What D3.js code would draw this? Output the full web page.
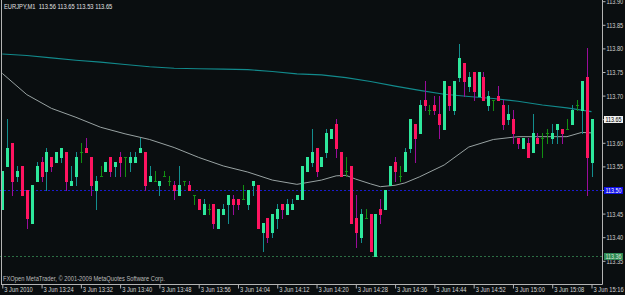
<!DOCTYPE html>
<html><head><meta charset="utf-8">
<script src="https://cdn.jsdelivr.net/npm/d3@7"></script>
<style>
html,body{margin:0;padding:0;background:#0a0e10;overflow:hidden;}
svg{display:block;}
</style></head><body>
<svg id="c" width="625" height="295"></svg>
<script>
// ---------- DATA ----------
const symbol = "EURJPY";
const period = "M1";
const opens  = [113.46,113.55,113.60,113.53,113.55,113.50,113.43,113.52,113.56,113.54,113.57,113.56,113.57,113.58,113.51,113.53,113.58,113.59,113.57,113.50,
                113.53,113.54,113.57,113.55,113.57,113.57,113.56,113.56,113.58,113.58,113.52,113.52,113.51,113.53,113.52,113.51,113.49,113.52,113.51,113.49,
                113.48,113.45,113.46,113.47,113.42,113.45,113.47,113.48,113.48,113.48,113.47,113.51,113.51,113.41,113.44,113.41,113.44,113.47,113.45,113.46,
                113.48,113.48,113.54,113.56,113.59,113.55,113.58,113.61,113.64,113.58,113.54,113.55,113.44,113.40,113.44,113.45,113.36,113.46,113.46,113.51,
                113.56,113.53,113.54,113.59,113.64,113.62,113.69,113.67,113.68,113.66,113.63,113.72,113.67,113.74,113.77,113.72,113.75,113.70,113.74,113.68,
                113.69,113.70,113.68,113.65,113.65,113.61,113.59,113.60,113.58,113.61,113.61,113.62,113.61,113.63,113.63,113.63,113.64,113.68,113.67,113.74,
                113.56];
const highs  = [113.54,113.65,113.60,113.55,113.55,113.50,113.51,113.56,113.57,113.59,113.57,113.58,113.59,113.58,113.55,113.58,113.60,113.61,113.57,113.53,
                113.55,113.56,113.57,113.56,113.58,113.57,113.58,113.58,113.61,113.58,113.55,113.54,113.52,113.54,113.53,113.52,113.55,113.52,113.52,113.49,
                113.48,113.48,113.47,113.47,113.46,113.47,113.49,113.49,113.48,113.51,113.50,113.52,113.51,113.43,113.44,113.45,113.47,113.47,113.48,113.48,
                113.49,113.55,113.57,113.63,113.59,113.57,113.63,113.63,113.65,113.58,113.57,113.55,113.49,113.46,113.46,113.45,113.45,113.48,113.50,113.55,
                113.57,113.55,113.59,113.65,113.64,113.69,113.73,113.68,113.70,113.70,113.73,113.72,113.73,113.81,113.77,113.75,113.75,113.75,113.75,113.71,
                113.69,113.72,113.69,113.68,113.67,113.61,113.61,113.61,113.66,113.62,113.62,113.63,113.64,113.64,113.63,113.65,113.68,113.69,113.73,113.80,
                113.65];
const lows   = [113.46,113.55,113.49,113.52,113.49,113.42,113.43,113.52,113.52,113.50,113.54,113.56,113.56,113.50,113.51,113.51,113.56,113.58,113.49,113.46,
                113.53,113.54,113.53,113.53,113.53,113.53,113.54,113.56,113.58,113.50,113.52,113.52,113.49,113.53,113.51,113.48,113.49,113.51,113.50,113.47,
                113.46,113.45,113.45,113.42,113.42,113.45,113.43,113.45,113.46,113.48,113.46,113.49,113.42,113.37,113.39,113.40,113.42,113.44,113.45,113.46,
                113.48,113.48,113.54,113.55,113.53,113.55,113.57,113.61,113.57,113.53,113.53,113.43,113.38,113.39,113.44,113.37,113.36,113.43,113.46,113.51,
                113.52,113.52,113.54,113.58,113.56,113.62,113.67,113.66,113.66,113.61,113.63,113.67,113.66,113.73,113.70,113.71,113.69,113.70,113.69,113.67,
                113.67,113.69,113.63,113.64,113.60,113.59,113.59,113.57,113.58,113.60,113.57,113.60,113.60,113.60,113.60,113.63,113.64,113.67,113.62,113.49,
                113.53];
const closes = [113.54,113.59,113.52,113.54,113.49,113.44,113.51,113.55,113.53,113.58,113.55,113.58,113.59,113.52,113.52,113.57,113.58,113.58,113.51,113.52,
                113.53,113.56,113.54,113.56,113.56,113.57,113.57,113.57,113.59,113.51,113.53,113.52,113.52,113.53,113.52,113.50,113.51,113.52,113.50,113.49,
                113.46,113.47,113.46,113.43,113.46,113.46,113.49,113.47,113.47,113.48,113.50,113.52,113.42,113.43,113.40,113.45,113.46,113.46,113.47,113.47,
                113.49,113.55,113.57,113.58,113.54,113.57,113.62,113.63,113.59,113.53,113.54,113.43,113.41,113.45,113.44,113.37,113.45,113.45,113.50,113.55,
                113.54,113.53,113.58,113.65,113.61,113.68,113.68,113.67,113.67,113.64,113.73,113.68,113.73,113.78,113.73,113.74,113.71,113.75,113.69,113.70,
                113.69,113.69,113.64,113.66,113.62,113.60,113.61,113.57,113.62,113.60,113.61,113.62,113.62,113.64,113.62,113.63,113.67,113.68,113.73,113.57,
                113.65];
// slow moving average (teal), sampled at bar indices
const maSlowIdx = [0,5,10,15,20,25,30,35,40,45,50,55,60,65,70,75,80,85,90,95,100,105,110,115,120];
const maSlow    = [113.788,113.785,113.780,113.775,113.771,113.766,113.761,113.758,113.757,113.756,113.755,113.751,113.746,113.744,113.738,113.730,113.720,113.711,113.703,113.698,113.694,113.688,113.680,113.674,113.666];
// fast moving average (grey)
const maFastIdx = [0,5,10,15,20,25,30,35,40,45,50,55,60,65,68,70,72,75,77,80,82,85,90,95,100,105,110,115,118,120];
const maFast    = [113.747,113.702,113.673,113.654,113.633,113.619,113.607,113.590,113.569,113.551,113.538,113.521,113.512,113.521,113.530,113.531,113.523,113.513,113.507,113.510,113.515,113.528,113.553,113.591,113.607,113.613,113.613,113.613,113.622,113.621];
// horizontal levels
const levelBlue  = 113.50;
const levelGreen = 113.36;
// axes
const priceTicks = [113.90,113.85,113.80,113.75,113.70,113.65,113.60,113.55,113.50,113.45,113.40,113.35];
const timeIdx    = [0,8,16,24,32,40,48,56,64,72,80,88,96,104,112,120];
const timeLabels = ["3 Jun 2010","3 Jun 13:24","3 Jun 13:32","3 Jun 13:40","3 Jun 13:48","3 Jun 13:56","3 Jun 14:04","3 Jun 14:12",
                    "3 Jun 14:20","3 Jun 14:28","3 Jun 14:36","3 Jun 14:44","3 Jun 14:52","3 Jun 15:00","3 Jun 15:08","3 Jun 15:16"];
const copyright = "FXOpen MetaTrader, \u00A9 2001-2009 MetaQuotes Software Corp.";

// ---------- CHART ----------
const W = 625, H = 295, plotR = 602, plotB = 284;
const FONT = "'Liberation Sans', Arial, sans-serif";
const svg = d3.select("#c");
svg.append("rect").attr("width", W).attr("height", H).attr("fill", "#0a0e10");

const x = d3.scaleLinear().domain([0, 120]).range([2.3, 591.5]);
const y = d3.scaleLinear().domain([113.50, 113.90]).range([190, 1.2]);
const f2 = d3.format(".2f");

// horizontally condense text around its own x anchor (narrow screen-font look)
function condense(sel, f) {
  sel.each(function () {
    const x0 = +(this.getAttribute("x") || 0);
    d3.select(this).attr("transform", `translate(${x0 * (1 - f)},0) scale(${f},1)`);
  });
}

svg.append("defs").append("clipPath").attr("id", "plot")
  .append("rect").attr("x", 0).attr("y", 0).attr("width", plotR).attr("height", plotB);
const plot = svg.append("g").attr("clip-path", "url(#plot)");

// moving averages
const line = d3.line().x(d => x(d[0])).y(d => y(d[1]));
plot.append("path").datum(maSlowIdx.map((d, i) => [d, maSlow[i]]))
  .attr("d", line).attr("fill", "none").attr("stroke", "#128a8c").attr("stroke-width", 1.1);
plot.append("path").datum(maFastIdx.map((d, i) => [d, maFast[i]]))
  .attr("d", line).attr("fill", "none").attr("stroke", "#98a2a2").attr("stroke-width", 1);

// horizontal levels
plot.append("line").attr("x1", 0).attr("x2", plotR)
  .attr("y1", Math.round(y(levelBlue)) + 0.5).attr("y2", Math.round(y(levelBlue)) + 0.5)
  .attr("stroke", "#1a1ad0").attr("stroke-dasharray", "2,2");
plot.append("line").attr("x1", 0).attr("x2", plotR)
  .attr("y1", Math.round(y(levelGreen)) + 0.5).attr("y2", Math.round(y(levelGreen)) + 0.5)
  .attr("stroke", "#2c6e44").attr("stroke-dasharray", "2,2");

// candles
const bars = d3.range(opens.length).map(i => ({ i, o: opens[i], h: highs[i], l: lows[i], c: closes[i] }));
const g = plot.selectAll("g.bar").data(bars).join("g").attr("class", "bar");
const kind = d => d.c > d.o ? "bull" : (d.c < d.o ? "bear" : "doji");
const wickCol = { bull: "#138e8e", bear: "#9a0c9a", doji: "#129012" };
const bodyCol = { bull: "#2ee89c", bear: "#ff1460", doji: "#129012" };
g.append("rect")
  .attr("x", d => Math.round(x(d.i)))
  .attr("y", d => Math.round(y(d.h)))
  .attr("width", 1)
  .attr("height", d => Math.round(y(d.l)) - Math.round(y(d.h)) + 1)
  .attr("fill", d => wickCol[kind(d)]);
g.append("rect")
  .attr("x", d => Math.round(x(d.i)) - 1)
  .attr("y", d => Math.round(y(Math.max(d.o, d.c))))
  .attr("width", 3)
  .attr("height", d => Math.max(1, Math.round(y(Math.min(d.o, d.c))) - Math.round(y(Math.max(d.o, d.c))) + 1))
  .attr("fill", d => bodyCol[kind(d)]);

// frame
const frame = svg.append("g").attr("stroke", "#b4b4b4").attr("stroke-width", 1);
frame.append("line").attr("x1", 1.5).attr("x2", 1.5).attr("y1", 0).attr("y2", plotB + 0.5);
frame.append("line").attr("x1", 1).attr("x2", plotR + 0.5).attr("y1", plotB + 0.5).attr("y2", plotB + 0.5);
frame.append("line").attr("x1", plotR + 0.5).attr("x2", plotR + 0.5).attr("y1", 0).attr("y2", plotB + 0.5);

// price axis (labels hidden where a coloured price box covers them)
const boxed = [levelBlue, closes[closes.length - 1]].map(f2);
const ay = d3.axisRight(y).tickValues(priceTicks).tickSize(3).tickPadding(1).tickFormat(f2);
const gy = svg.append("g").attr("transform", `translate(${plotR + 0.5},0)`).call(ay)
  .attr("font-family", FONT).attr("font-size", 8);
gy.select(".domain").remove();
gy.selectAll(".tick line").attr("stroke", "#b4b4b4");
gy.selectAll(".tick text").attr("fill", "#cfcfcf")
  .style("display", d => boxed.includes(f2(d)) ? "none" : null);
condense(gy.selectAll(".tick text"), 0.7);

// price labels (boxes)
function priceBox(p, bg, fg) {
  const yy = Math.round(y(p));
  const gb = svg.append("g");
  gb.append("rect").attr("x", 604).attr("y", yy - 3).attr("width", 19).attr("height", 7).attr("fill", bg);
  const t = gb.append("text").attr("x", 605.5).attr("y", yy + 3).attr("fill", fg)
    .attr("font-family", FONT).attr("font-size", 7.5).text(f2(p));
  condense(t, 0.72);
}
priceBox(levelGreen, "#2e8a54", "#d8e8d8");
priceBox(levelBlue, "#1010e8", "#ffffff");
priceBox(closes[closes.length - 1], "#f0f0f0", "#000000");

// time axis
const ax = d3.axisBottom(x).tickValues(timeIdx).tickSize(4).tickFormat((d, i) => timeLabels[i]);
const gx = svg.append("g").attr("transform", `translate(0,${plotB + 0.5})`).call(ax)
  .attr("font-family", FONT).attr("font-size", 8);
gx.select(".domain").remove();
gx.selectAll(".tick line").attr("stroke", "#b4b4b4");
gx.selectAll(".tick text").attr("fill", "#d4d4d4").attr("text-anchor", "start")
  .attr("x", 1.5).attr("y", 7.5).attr("dy", 0);
condense(gx.selectAll(".tick text"), 0.72);

// title and copyright
const last = closes.length - 1;
const title = svg.append("text").attr("x", 4).attr("y", 9.5).attr("fill", "#e0e0e0")
  .attr("font-family", FONT).attr("font-size", 8).style("white-space", "pre")
  .text(`${symbol},${period}  ${f2(opens[last])} ${f2(highs[last])} ${f2(lows[last])} ${f2(closes[last])}`);
condense(title, 0.72);
const copy = svg.append("text").attr("x", 3).attr("y", 281).attr("fill", "#bdbdbd")
  .attr("font-family", FONT).attr("font-size", 8).text(copyright);
condense(copy, 0.72);
</script>
</body></html>
